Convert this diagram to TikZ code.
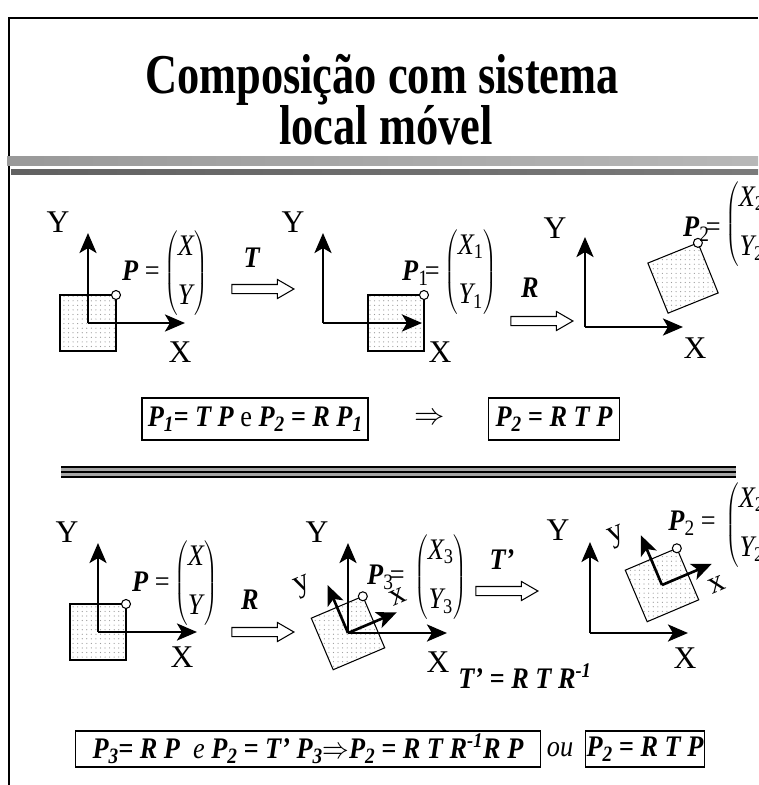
\documentclass[tikz,border=0pt]{standalone}
\usepackage{fontspec}
\setmainfont{Liberation Serif}
\usetikzlibrary{arrows.meta, shapes.arrows, patterns.meta}

\newcommand{\eqfont}{\fontsize{17}{20}\selectfont}
\newcommand{\axfont}{\fontsize{18}{21}\selectfont}
\newcommand{\headfont}{\fontsize{32}{38}\selectfont\bfseries}
\newcommand{\narrow}[1]{\scalebox{0.88}[1]{#1}}
\newcommand{\bv}[1]{\textbf{\textit{#1}}}
\newcommand{\lowidx}[1]{\raisebox{-0.35ex}{\fontsize{12.5}{14}\selectfont #1}}
\newcommand{\colvec}[2]{$\left(\vcenter{\hbox{\eqfont\begin{tabular}{@{}c@{}}\textit{#1}\\[8pt]\textit{#2}\end{tabular}}}\right)$}

\begin{document}
\begin{tikzpicture}[
  x=0.02cm, y=-0.02cm,
  axis/.style={line width=1.6pt, -{Stealth[length=0.4cm, width=0.34cm, inset=0.1cm]}},
  plate/.style={draw, line width=0.6pt, pattern={Dots[distance=2.6pt, radius=0.35pt]}, pattern color=black!40},
  knob/.style={circle, draw, fill=white, line width=0.6pt, inner sep=0pt, minimum size=0.18cm},
  lbl/.style={font=\eqfont, inner sep=0pt},
  axlbl/.style={font=\axfont, inner sep=0pt},
  eqbox/.style={draw, line width=0.6pt, font=\eqfont\bfseries\itshape, inner sep=0pt, align=center},
  movearrow/.style={draw, single arrow, single arrow head extend=0.1cm, single arrow tip angle=60,
    minimum width=0.36cm, minimum height=1.24cm, inner xsep=0pt, inner ysep=0.08cm, line width=0.6pt}
]
\useasboundingbox (0,0) rectangle (758,785);

% frame and title
\draw[line width=1.7pt] (9,785) -- (9,18) -- (758,18);
\node[font=\headfont, anchor=base] (head1) at (382,93) {\scalebox{0.79}[1]{Composição com sistema}};
\node[font=\headfont, anchor=base] (head2) at (386,144) {\scalebox{0.79}[1]{local móvel}};
\shade[left color=black!40, middle color=black!12, right color=black!28] (7,156) rectangle (758,165);
\shade[left color=black!62, middle color=black!28, right color=black!52] (11,169) rectangle (758,174);

% T then R
\coordinate (o1) at (88,323);
\draw[plate] (60,295) rectangle (116,351);
\draw[axis] (o1) -- (88,233);
\draw[axis] (o1) -- (185,323);
\node[knob] (k1) at (116,295) {};
\node[axlbl] (y1) at (58,222) {Y};
\node[axlbl] (x1) at (180,352) {X};
\node[lbl, anchor=east] (p1) at (160,271) {\narrow{\bv{P} =}};
\node[lbl, anchor=west] (m1) at (164,273) {\narrow{\colvec{X}{Y}}};
\node[lbl] (t1) at (252,258) {\narrow{\bv{T}}};
\node[movearrow] (a1) at (259,289) {};

\coordinate (o2) at (323,323);
\draw[plate] (368,295) rectangle (424,351);
\draw[axis] (o2) -- (323,233);
\draw[axis] (o2) -- (422,323);
\node[knob] (k2) at (424,295) {};
\node[axlbl] (y2) at (293,222) {Y};
\node[axlbl] (x2) at (440,352) {X};
\node[lbl, anchor=east] (p2) at (440,273) {\narrow{\bv{P}\lowidx{1}\kern-2pt=}};
\node[lbl, anchor=west] (m2) at (444,272) {\narrow{\colvec{X\textsubscript{\upshape 1}}{Y\textsubscript{\upshape 1}}}};
\node[lbl] (r1) at (530,288) {\narrow{\bv{R}}};
\node[movearrow] (a2) at (538,321) {};

\coordinate (o3) at (585,327);
\begin{scope}[shift={(683,278)}, rotate=22]
  \draw[plate] (-27,-27) rectangle (27,27);
  \node[knob] (k3) at (27,-27) {};
\end{scope}
\draw[axis] (o3) -- (585,237);
\draw[axis] (o3) -- (683,327);
\node[axlbl] (y3) at (555,228) {Y};
\node[axlbl] (x3) at (695,348) {X};
\node[lbl, anchor=east] (p3) at (721,229) {\narrow{\bv{P}\lowidx{2}\kern-2pt=}};
\node[lbl, anchor=west] (m3) at (725,224) {\narrow{\colvec{X\textsubscript{\upshape 2}}{Y\textsubscript{\upshape 2}}}};

% results of the first way
\node[eqbox, minimum width=4.52cm, minimum height=0.84cm] (eq1) at (255,419)
  {\narrow{P\lowidx{1}= T P {\mdseries\upshape e} P\lowidx{2} = R P\lowidx{1}}};
\node[lbl] (imp) at (430,419) {$\Rightarrow$};
\node[eqbox, minimum width=2.62cm, minimum height=0.84cm] (eq2) at (554,419) {\narrow{P\lowidx{2} = R T P}};

% double rule
\fill[black!35] (61,467) rectangle (736,477);
\draw[line width=0.9pt] (61,467) -- (736,467);
\draw[line width=0.9pt] (61,472) -- (736,472);
\draw[line width=0.9pt] (61,477) -- (736,477);

% R then T'
\coordinate (o4) at (98,632);
\draw[plate] (70,604) rectangle (126,660);
\draw[axis] (o4) -- (98,543);
\draw[axis] (o4) -- (197,632);
\node[knob] (k4) at (126,604) {};
\node[axlbl] (y4) at (67,532) {Y};
\node[axlbl] (x4) at (182,657) {X};
\node[lbl, anchor=east] (p4) at (170,582) {\narrow{\bv{P} =}};
\node[lbl, anchor=west] (m4) at (174,583) {\narrow{\colvec{X}{Y}}};
\node[lbl] (r2) at (250,600) {\narrow{\bv{R}}};
\node[movearrow] (a3) at (259,632) {};

\coordinate (o5) at (348,633);
\begin{scope}[shift={(348,633)}, rotate=23]
  \draw[plate] (-28,-28) rectangle (28,28);
  \node[knob] (k5) at (28,-28) {};
\end{scope}
\draw[axis] (o5) -- (348,543);
\draw[axis] (o5) -- (447,633);
\begin{scope}[shift={(348,633)}, rotate=23]
  \draw[axis, line width=1.5pt] (0,0) -- (53,0);
  \draw[axis, line width=1.5pt] (0,0) -- (0,-52);
\end{scope}
\node[axlbl] (y5) at (317,532) {Y};
\node[axlbl] (x5) at (438,662) {X};
\node[axlbl, rotate=23] (lx5) at (398,597) {x};
\node[axlbl, rotate=23] (ly5) at (303,587) {y};
\node[lbl, anchor=east] (p5) at (405,577) {\narrow{\bv{P}\lowidx{3}\kern-2pt=}};
\node[lbl, anchor=west] (m5) at (414,577) {\narrow{\colvec{X\textsubscript{\upshape 3}}{Y\textsubscript{\upshape 3}}}};
\node[lbl] (t2) at (502,560) {\narrow{\bv{T’}}};
\node[movearrow] (a4) at (503,591) {};
\node[lbl, font=\eqfont\bfseries\itshape] (tdef) at (525,676) {\narrow{T’ = R T R\textsuperscript{-1}}};

\coordinate (o6) at (590,633);
\begin{scope}[shift={(662,585)}, rotate=23]
  \draw[plate] (-28,-28) rectangle (28,28);
  \node[knob] (k6) at (28,-28) {};
  \draw[axis, line width=1.5pt] (0,0) -- (54,0);
  \draw[axis, line width=1.5pt] (0,0) -- (0,-54);
\end{scope}
\draw[axis] (o6) -- (590,542);
\draw[axis] (o6) -- (688,633);
\node[axlbl] (y6) at (558,530) {Y};
\node[axlbl] (x6) at (685,658) {X};
\node[axlbl, rotate=23] (lx6) at (717,585) {x};
\node[axlbl, rotate=23] (ly6) at (617,537) {y};
\node[lbl, anchor=east] (p6) at (716,523) {\narrow{\bv{P}\lowidx{2} =}};
\node[lbl, anchor=west] (m6) at (725,525) {\narrow{\colvec{X\textsubscript{\upshape 2}}{Y\textsubscript{\upshape 2}}}};

% results of the second way
\node[eqbox, minimum width=9.32cm, minimum height=0.72cm] (eq3) at (308,749)
  {\narrow{P\lowidx{3}= R P\enspace {\mdseries e} P\lowidx{2} = T’ P\lowidx{3}$\Rightarrow$P\lowidx{2} = R T R\textsuperscript{-1}R P}};
\node[lbl, font=\eqfont\itshape] (ou) at (560,750) {\narrow{ou}};
\node[eqbox, minimum width=2.38cm, minimum height=0.72cm] (eq4) at (645,749) {\narrow{P\lowidx{2} = R T P}};
\end{tikzpicture}
\end{document}
